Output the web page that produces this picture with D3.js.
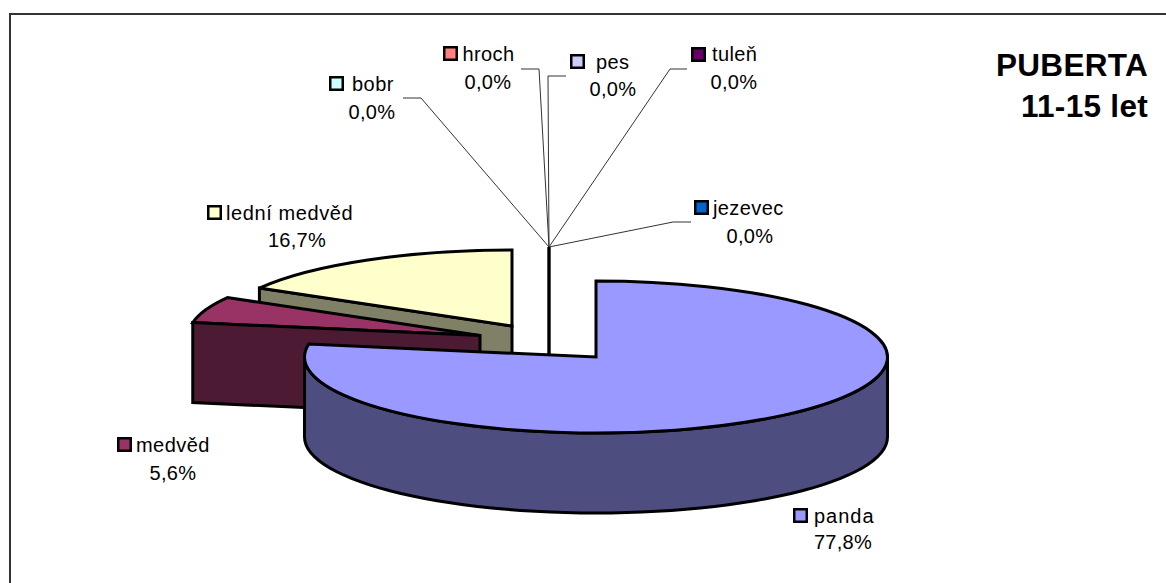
<!DOCTYPE html>
<html><head><meta charset="utf-8">
<script src="https://cdn.jsdelivr.net/npm/d3@7"></script>
<style>html,body{margin:0;padding:0;background:#fff;overflow:hidden}svg{display:block}
text{font-family:"Liberation Sans",Arial,sans-serif;fill:#000}</style></head><body>
<div id="chart"></div>
<script>
const categories=["panda","medvěd","lední medvěd","bobr","hroch","pes","tuleň","jezevec"];
const values=[77.8,5.6,16.7,0,0,0,0,0];
const percentLabels=["77,8%","5,6%","16,7%","0,0%","0,0%","0,0%","0,0%","0,0%"];
const topColors=["#9999FF","#993366","#FFFFCC","#CCFFFF","#FF8080","#CCCCFF","#660066","#0066CC"];
const sideColors=["#4D4D80","#4D1A33","#808066"];
const titleLines=["PUBERTA","11-15 let"];

const W=1166,H=583,rx=291.5,ry=76,depth=80;
const centers=[[596,357],[480,335.5],[512,326]];
const zeroApex=[549,247],zeroBase=355;
const labelPos=[
 {sw:793,sy:508,tx:814,ty:523,px:843,py:549,ls:1},
 {sw:117,sy:437,tx:136,ty:452,px:173,py:480,ls:.45},
 {sw:207,sy:205,tx:226,ty:220,px:297,py:247,ls:.6},
 {sw:329,sy:76,tx:352,ty:91,px:372,py:119,ls:.5},
 {sw:443,sy:46,tx:462.5,ty:61,px:488,py:89,ls:.4},
 {sw:570,sy:54,tx:596,ty:69,px:613,py:96,ls:.4},
 {sw:691,sy:47,tx:712,ty:61,px:734,py:89,ls:.4},
 {sw:694,sy:200,tx:713,ty:215,px:750,py:243,ls:.4}];
const leaders=[null,null,null,
 [[403,98],[421,98]],[[521,69],[539,69]],[[566,76],[548,76]],[[687,69],[670,69]],[[691,222],[673,222]]];

const svg=d3.select("#chart").append("svg").attr("width",W).attr("height",H);
svg.append("path").attr("d",`M10,${H}V14H${W}`).attr("fill","none").attr("stroke","#333").attr("stroke-width",2);

const arcs=d3.pie().sort(null).value(d=>d)(values);
const pt=(i,a,dy=0)=>[centers[i][0]+rx*Math.sin(a),centers[i][1]-ry*Math.cos(a)+dy];
const line=d3.line();
const arcGen=d3.arc().innerRadius(0).outerRadius(rx);
const edge={stroke:"#000","stroke-width":3,"stroke-linejoin":"miter","stroke-miterlimit":2.5};
const style=(s)=>{Object.entries(edge).forEach(([k,v])=>s.attr(k,v));return s;};

leaders.forEach(l=>{ if(!l) return;
 svg.append("path").attr("d",line([l[0],l[1],zeroApex])).attr("fill","none").attr("stroke","#333").attr("stroke-width",1);
});
svg.append("line").attr("x1",zeroApex[0]).attr("x2",zeroApex[0]).attr("y1",zeroApex[1]).attr("y2",zeroBase).attr("stroke","#000").attr("stroke-width",3.4);

function radialFace(i,a,fill,d=depth){
 const p=pt(i,a),c=centers[i];
 return style(svg.append("path").attr("d",line([p,c,[c[0],c[1]+d],[p[0],p[1]+d]])+"Z").attr("fill",fill));
}
function topFace(i){
 return style(svg.append("path")
  .attr("transform",`translate(${centers[i][0]},${centers[i][1]}) scale(1,${ry/rx})`)
  .attr("d",arcGen(arcs[i])).attr("fill",topColors[i]))
  .attr("vector-effect","non-scaling-stroke");
}
radialFace(2,arcs[2].startAngle,sideColors[2]);
topFace(2);
topFace(1);
radialFace(1,arcs[1].startAngle,sideColors[1]);
const sideAngles=d3.range(90,271,3).map(d=>d*Math.PI/180);
const front=sideAngles.map(a=>pt(0,a));
const back=sideAngles.map(a=>pt(0,a,depth)).reverse();
style(svg.append("path").attr("d",line(front.concat(back))+"Z").attr("fill",sideColors[0]));
topFace(0);

categories.forEach((c,i)=>{
 const p=labelPos[i];
 svg.append("rect").attr("x",p.sw+1.25).attr("y",p.sy+1.25).attr("width",12.5).attr("height",12.5)
  .attr("fill",topColors[i]).attr("stroke","#000").attr("stroke-width",2.5);
 svg.append("text").attr("x",p.tx).attr("y",p.ty).attr("font-size",20).attr("letter-spacing",p.ls).text(c);
 svg.append("text").attr("x",p.px).attr("y",p.py).attr("font-size",20).attr("letter-spacing",.3).attr("text-anchor","middle").text(percentLabels[i]);
});
titleLines.forEach((t,i)=>svg.append("text").attr("x",1148).attr("y",76+i*41)
 .attr("text-anchor","end").attr("font-size",31.5).attr("letter-spacing",.3).attr("font-weight","bold").text(t));
</script></body></html>
